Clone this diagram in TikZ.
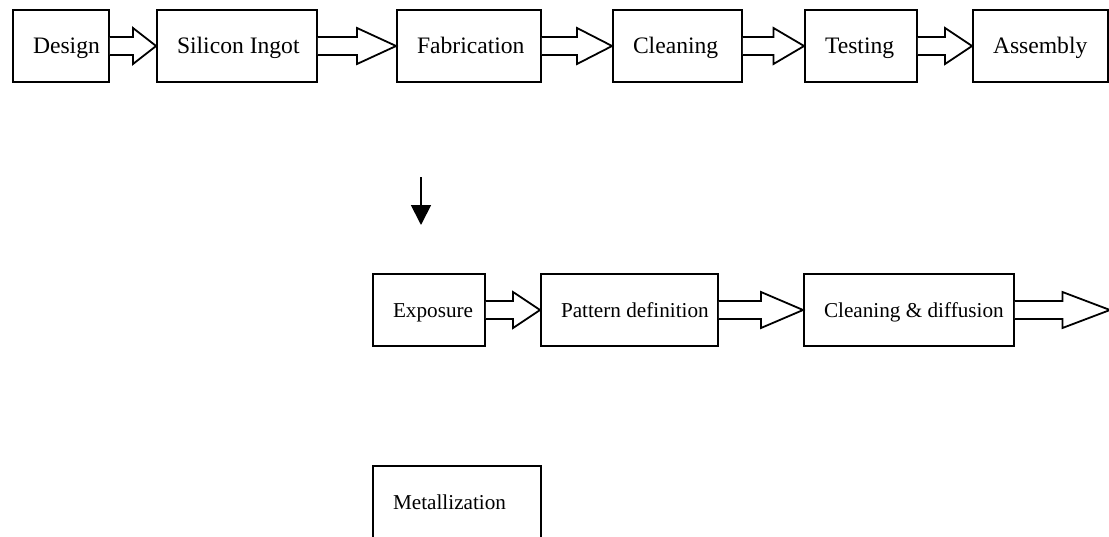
\documentclass[tikz,border=0pt]{standalone}
\usepackage{fontspec}
\setmainfont{Liberation Serif}
\usetikzlibrary{calc,arrows.meta}

\begin{document}
\begin{tikzpicture}[
  x=0.5pt, y=-0.5pt,
  stage/.style={draw, line width=0.9pt, text width=#1, inner xsep=0pt, minimum height=36pt,
    text height=8pt, text depth=1pt, align=left,
    execute at begin node={\spaceskip=0pt\xspaceskip=0pt\hspace*{10pt}}},
  top/.style={font=\fontsize{11.8pt}{14pt}\selectfont},
  low/.style={font=\fontsize{10.6pt}{13pt}\selectfont},
  fat/.style={draw, line width=0.9pt, line join=miter, fill=white},
  drop/.style={-{Triangle[width=10pt,length=10pt]}, line width=0.9pt}
]
  \useasboundingbox (0,0) rectangle (1109,536);
  \clip (0,0) rectangle (1109,536);

  % main flow
  \node[stage=48pt, top] (design) at (61,46) {Design};
  \node[stage=80pt, top] (ingot) at (237,46) {Silicon Ingot};
  \node[stage=72pt, top] (fab) at (469,46) {Fabrication};
  \node[stage=64.5pt, top] (clean) at (677.5,46) {Cleaning};
  \node[stage=56pt, top] (test) at (861,46) {Testing};
  \node[stage=67.5pt, top] (assembly) at (1040.5,46) {Assembly};

  % fabrication steps
  \coordinate (dropstart) at (421,177);
  \coordinate (dropend) at (421,225);
  \node[stage=56pt, low] (expo) at (429,310) {Exposure};
  \node[stage=88.5pt, low] (pattern) at (629.5,310) {Pattern definition};
  \node[stage=105pt, low] (diffuse) at (909,310) {Cleaning \& diffusion};
  \coordinate (onward) at (1110,310);
  \node[stage=84pt, low] (metal) at (457,502) {Metallization};

  \foreach \a/\b in {design/ingot, ingot/fab, fab/clean, clean/test, test/assembly,
                     expo/pattern, pattern/diffuse, diffuse/onward}
    \draw[fat] let \p1=(\a.east), \p2=(\b.west), \p3=($(\a.east)!0.5!(\b.west)$) in
      (\x1,\y1+4.5pt) -- (\x3,\y1+4.5pt) -- (\x3,\y1+9pt) -- (\x2,\y1)
      -- (\x3,\y1-9pt) -- (\x3,\y1-4.5pt) -- (\x1,\y1-4.5pt);

  \draw[drop] (dropstart) -- (dropend);
\end{tikzpicture}
\end{document}
